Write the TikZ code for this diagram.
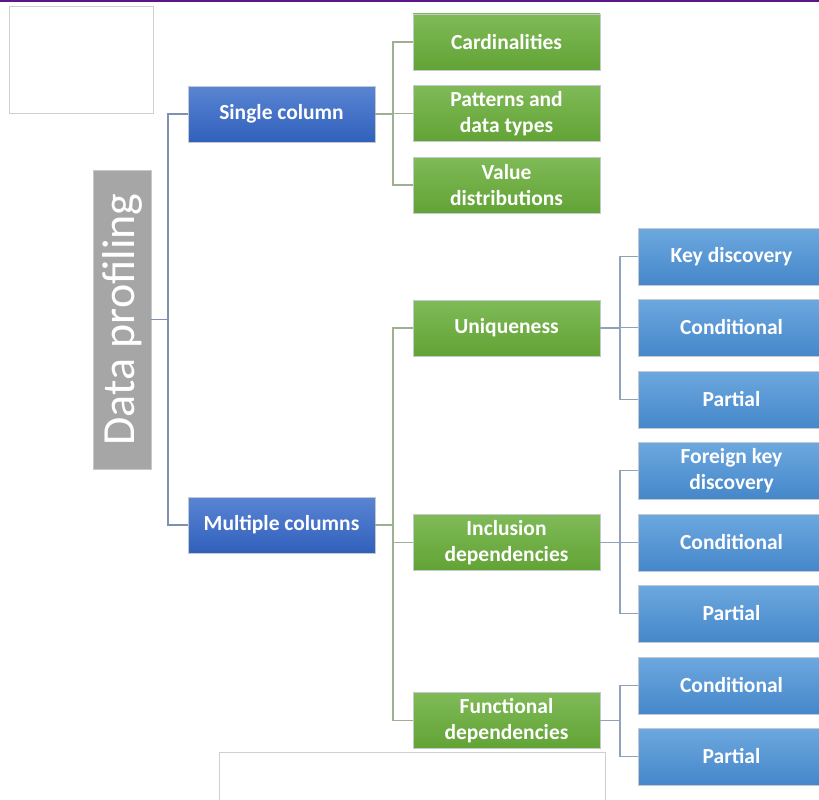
\documentclass[tikz,border=0pt]{standalone}
\usepackage{fontspec}
\setmainfont{Carlito}
\usepackage{xcolor}
\usepackage{tikz}
\usetikzlibrary{positioning,calc}
\definecolor{rootgray}{HTML}{A6A6A6}
\definecolor{darkbluetop}{HTML}{5A85D3}
\definecolor{darkbluebot}{HTML}{3160BC}
\definecolor{greentop}{HTML}{7FBA57}
\definecolor{greenbot}{HTML}{62A335}
\definecolor{lightbluetop}{HTML}{6DA8DF}
\definecolor{lightbluebot}{HTML}{4587CA}
\definecolor{boxedge}{HTML}{C4C9CF}
\definecolor{bluelink}{HTML}{7F91B2}
\definecolor{greenlink}{HTML}{9DB090}
\definecolor{skylink}{HTML}{8FA2B7}
\definecolor{topline}{HTML}{5C1688}
\definecolor{framegray}{HTML}{CFCFCF}
\tikzset{
  box/.style={draw=boxedge,line width=.6pt,minimum width=187pt,minimum height=56pt,
    inner sep=2pt,align=center,text=white,font=\bfseries\fontsize{21.5}{25.5}\selectfont},
  levelone/.style={box,top color=darkbluetop,bottom color=darkbluebot},
  leveltwo/.style={box,top color=greentop,bottom color=greenbot},
  levelthree/.style={box,top color=lightbluetop,bottom color=lightbluebot,minimum height=57pt},
  rootbox/.style={fill=rootgray,draw=boxedge,line width=.6pt,minimum width=299pt,minimum height=58pt,
    rotate=90,text=white,font=\fontsize{46}{50}\selectfont},
  link/.style={line width=1.8pt},
  emptyframe/.style={draw=framegray,line width=.8pt,fill=white},
}
\begin{document}
\begin{tikzpicture}[x=1pt,y=1pt]
  \clip (0,0) rectangle (819,-800);
  \fill[white] (0,0) rectangle (819,-800);
  \fill[topline] (0,0) rectangle (819,-2.5);

  % empty frames
  \draw[emptyframe] (9,-6) rectangle (153,-113);
  \draw[emptyframe] (219,-752) rectangle (605,-806);

  % root and first level
  \node[rootbox] (root) at (122,-319.5) {Data profiling};
  \node[levelone] (single) at (281.5,-114) {Single column};
  \node[levelone] (multi) at (281.5,-525) {Multiple columns};

  % second level
  \node[leveltwo] (card) at (506.5,-42) {Cardinalities};
  \node[leveltwo] (patt) at (506.5,-113.5) {Patterns and\\data types};
  \node[leveltwo] (vdist) at (506.5,-185) {Value\\distributions};
  \node[leveltwo] (uniq) at (506.5,-328) {Uniqueness};
  \node[leveltwo] (incl) at (506.5,-542.5) {Inclusion\\dependencies};
  \node[leveltwo] (func) at (506.5,-720.5) {Functional\\dependencies};

  % third level
  \node[levelthree] (ukey) at (731.5,-256.5) {Key discovery};
  \node[levelthree] (ucond) at (731.5,-327.5) {Conditional};
  \node[levelthree] (upart) at (731.5,-399.5) {Partial};
  \node[levelthree] (ifk) at (731.5,-470.5) {Foreign key\\discovery};
  \node[levelthree] (icond) at (731.5,-542.5) {Conditional};
  \node[levelthree] (ipart) at (731.5,-613.5) {Partial};
  \node[levelthree] (fcond) at (731.5,-685.5) {Conditional};
  \node[levelthree] (fpart) at (731.5,-756.5) {Partial};

  % connectors
  \foreach \c in {single,multi}
    \draw[link,bluelink] (root.south) -- ++(17,0) |- (\c.west);
  \foreach \c in {card,patt,vdist}
    \draw[link,greenlink] (single.east) -- ++(18,0) |- (\c.west);
  \foreach \c in {uniq,incl,func}
    \draw[link,greenlink] (multi.east) -- ++(18,0) |- (\c.west);
  \foreach \c in {ukey,ucond,upart}
    \draw[link,skylink] (uniq.east) -- ++(20,0) |- (\c.west);
  \foreach \c in {ifk,icond,ipart}
    \draw[link,skylink] (incl.east) -- ++(20,0) |- (\c.west);
  \foreach \c in {fcond,fpart}
    \draw[link,skylink] (func.east) -- ++(20,0) |- (\c.west);
\end{tikzpicture}
\end{document}
